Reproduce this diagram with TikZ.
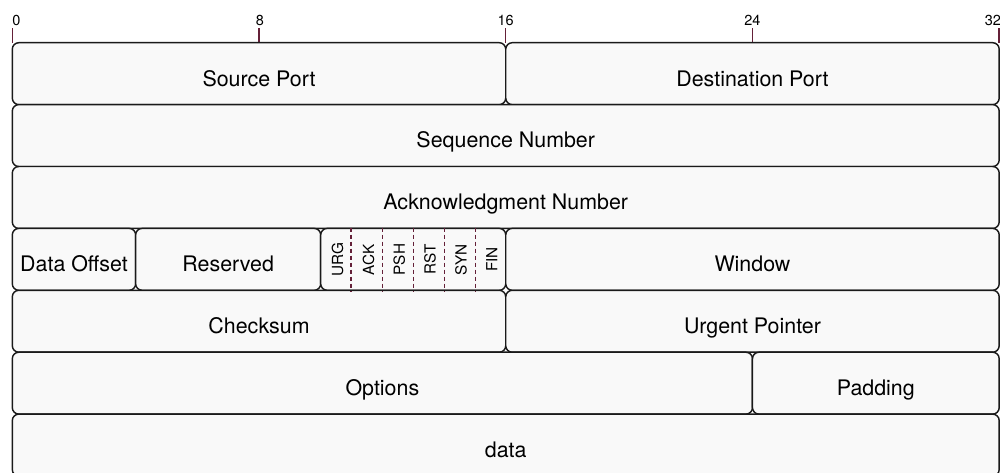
\documentclass[tikz,border=0pt]{standalone}
\usepackage{fontspec}
\setmainfont{TeX Gyre Heros}
\usetikzlibrary{calc}
\definecolor{boxfill}{HTML}{F9F9F9}
\definecolor{boxline}{HTML}{1A1A1A}
\definecolor{tickcol}{HTML}{642038}
\newcommand\mkfield[5]{%
  \pgfmathsetmacro\fxa{12.3+30.84*#2}%
  \pgfmathsetmacro\fxb{12.3+30.84*#3}%
  \pgfmathsetmacro\fyc{42.7+61.9*#4+30.95}%
  \pgfmathsetmacro\fwid{\fxb-\fxa}%
  \pgfmathsetmacro\fxc{(\fxa+\fxb)/2}%
  \node[field, minimum width=\fwid pt] (#1) at (\fxc,\fyc) {#5};}
\newcommand\mktick[3]{%
  \pgfmathsetmacro\txx{12.3+30.84*#2}%
  \node[num] (n#1) at (\txx+#3,25.3) {#2};
  \coordinate (c#1) at (\txx,42.7);
  \coordinate (e#1) at (\txx,28);
  \draw[tickline] (c#1) -- (e#1);}
\newcommand\mkflag[2]{%
  \pgfmathsetmacro\gxx{12.3+30.84*(#2+0.5)+1.6}%
  \node[flagtext] (f#1) at (\gxx,259.65) {#1};}
\tikzset{
  field/.style={draw=boxline, fill=boxfill, line width=1.45pt, rounded corners=6.5pt,
    rectangle, inner sep=0pt, minimum height=61.9pt, text height=24.7pt, text depth=0pt,
    font=\fontsize{21.4}{24}\selectfont, text=black},
  flagtext/.style={rotate=90, inner sep=0pt, text height=11pt, text depth=0pt,
    font=\fontsize{15.3}{17}\selectfont, text=black},
  num/.style={anchor=base, inner sep=0pt, font=\fontsize{14.5}{16}\selectfont, text=black},
  tickline/.style={draw=tickcol, line width=1.4pt},
  sepline/.style={draw=tickcol, line width=1.2pt, dash pattern=on 4pt off 3pt},
}
\begin{document}
\begin{tikzpicture}[x=1pt,y=-1pt]
\fill[white] (0,0) rectangle (1000,472);
\useasboundingbox (0,0) rectangle (1000,472);
\clip (0,0) rectangle (1000,472);
\mktick{a}{0}{4}
\mktick{b}{8}{1}
\mktick{c}{16}{0}
\mktick{d}{24}{0}
\mktick{e}{32}{-6.3}
\mkfield{src}{0}{16}{0}{Source Port}
\mkfield{dst}{16}{32}{0}{Destination Port}
\mkfield{seq}{0}{32}{1}{Sequence Number}
\mkfield{ack}{0}{32}{2}{Acknowledgment Number}
\mkfield{off}{0}{4}{3}{Data Offset}
\mkfield{res}{4}{10}{3}{Reserved}
\mkfield{flags}{10}{16}{3}{}
\mkfield{win}{16}{32}{3}{Window}
\mkfield{chk}{0}{16}{4}{Checksum}
\mkfield{urg}{16}{32}{4}{Urgent Pointer}
\mkfield{opt}{0}{24}{5}{Options}
\mkfield{pad}{24}{32}{5}{Padding}
\mkfield{data}{0}{32}{6}{data}
\foreach \i in {1,...,5}{
  \draw[sepline] ($(flags.north west)!\i/6!(flags.north east)$) -- ($(flags.south west)!\i/6!(flags.south east)$);
}
\mkflag{URG}{10}
\mkflag{ACK}{11}
\mkflag{PSH}{12}
\mkflag{RST}{13}
\mkflag{SYN}{14}
\mkflag{FIN}{15}
\end{tikzpicture}
\end{document}
